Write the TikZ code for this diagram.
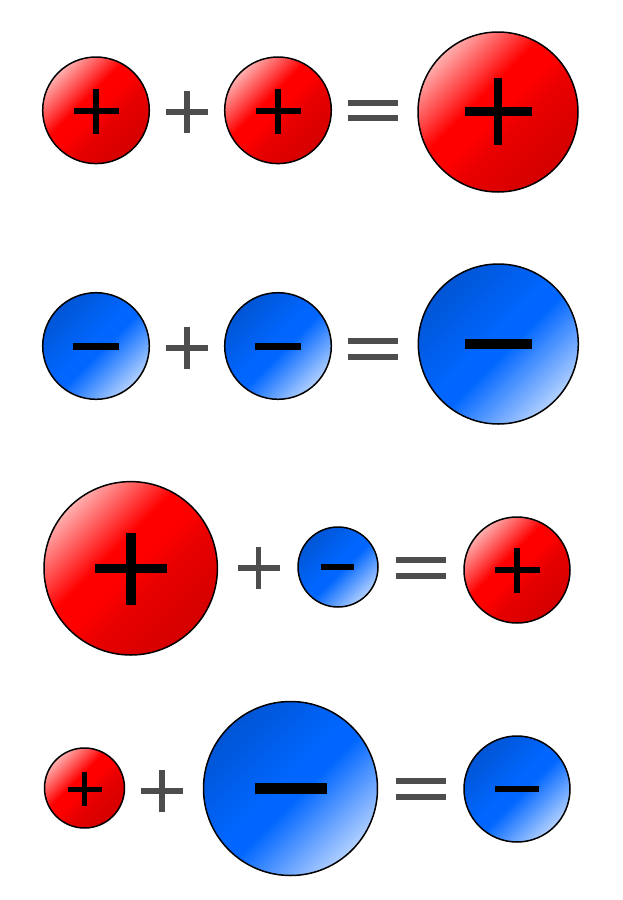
\documentclass[tikz,border=0pt]{standalone}
\usetikzlibrary{calc}
\definecolor{rdark}{HTML}{D40000}
\definecolor{rmid}{HTML}{E80000}
\definecolor{rred}{HTML}{FF0000}
\definecolor{rlight}{HTML}{FFB0B0}
\definecolor{blight}{HTML}{B3D1FF}
\definecolor{bmid}{HTML}{0066FF}
\definecolor{bdark}{HTML}{0055D4}
\definecolor{signgray}{HTML}{4D4D4D}
\pgfdeclareverticalshading{redball}{100bp}{color(0bp)=(rdark); color(25bp)=(rdark); color(42bp)=(rmid); color(50bp)=(rred); color(57bp)=(rred); color(75bp)=(rlight); color(100bp)=(rlight)}
\pgfdeclareverticalshading{blueball}{100bp}{color(0bp)=(blight); color(25bp)=(blight); color(47bp)=(bmid); color(53bp)=(bmid); color(75bp)=(bdark); color(100bp)=(bdark)}
\newcommand\myball[4]{%
  \begin{scope}[transform canvas={rotate around={45:(#1,#2)}}]
    \shade[shading=#4] (#1,#2) circle[radius=#3];
  \end{scope}
  \draw[line width=1.5pt] (#1,#2) circle[radius=#3];}
\newcommand\mypsign[5]{%
  \fill[#5] ({#1-#3},{#2-#4}) rectangle ({#1+#3},{#2+#4});
  \fill[#5] ({#1-#4},{#2-#3}) rectangle ({#1+#4},{#2+#3});}
\newcommand\mymsign[5]{%
  \fill[#5] ({#1-#3},{#2-#4}) rectangle ({#1+#3},{#2+#4});}
\newcommand\myeq[3]{% x center, y top bar center, y bottom bar center
  \fill[signgray] ({#1-25},{#2-3}) rectangle ({#1+25},{#2+3});
  \fill[signgray] ({#1-25},{#3-3}) rectangle ({#1+25},{#3+3});}
\begin{document}
\begin{tikzpicture}[x=1pt,y=-1pt]
\useasboundingbox (0,0) rectangle (623,900);
\fill[white] (0,0) rectangle (623,900);
% Row 1
\myball{96}{110.3}{53.3}{redball}
\mypsign{96}{111}{22.5}{3}{black}
\mypsign{187}{112}{21}{2.7}{signgray}
\myball{278}{110.3}{53.3}{redball}
\mypsign{278}{111}{22.5}{3}{black}
\myeq{373}{103}{118.3}
\myball{498}{112}{80}{redball}
\mypsign{498}{111.5}{33.5}{4.3}{black}
% Row 2
\myball{96}{346}{53.3}{blueball}
\mymsign{96}{346}{23}{3.5}{black}
\mypsign{187}{348}{21}{2.7}{signgray}
\myball{278}{346}{53.3}{blueball}
\mymsign{278}{346}{23}{3.5}{black}
\myeq{373}{341}{356.5}
\myball{498.3}{344}{80}{blueball}
\mymsign{498.3}{344}{33.5}{5}{black}
% Row 3
\myball{130.7}{568.3}{86.7}{redball}
\mypsign{131}{568.5}{36}{4.9}{black}
\mypsign{258.5}{568}{21}{2.7}{signgray}
\myball{338}{567}{40}{blueball}
\mymsign{337.5}{567}{16.5}{2.8}{black}
\myeq{420.5}{560}{576}
\myball{517}{570}{53}{redball}
\mypsign{517}{570}{22.5}{3}{black}
% Row 4
\myball{84.5}{788}{40}{redball}
\mypsign{84.5}{789}{17}{2.5}{black}
\mypsign{162}{791}{21}{2.7}{signgray}
\myball{290.5}{788.5}{87}{blueball}
\mymsign{291}{788.5}{36}{5.3}{black}
\myeq{420.5}{781}{797}
\myball{517}{789}{53}{blueball}
\mymsign{517}{789}{22}{3}{black}
\end{tikzpicture}
\end{document}
